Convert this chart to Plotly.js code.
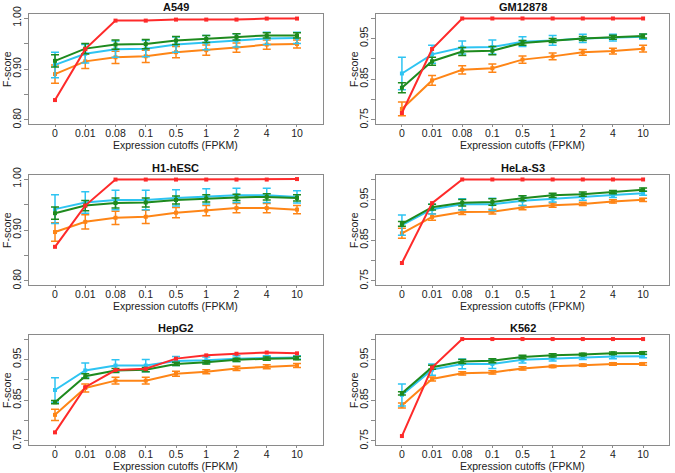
<!DOCTYPE html>
<html>
<head>
<meta charset="utf-8">
<script src="https://cdn.plot.ly/plotly-3.0.1.min.js"></script>
<style>html,body{margin:0;padding:0;background:#fff;}#chart{width:675px;height:473px;}</style>
</head>
<body>
<div id="chart"></div>
<script>
// ---------- data ----------
const cutoffs = ['0', '0.01', '0.08', '0.1', '0.5', '1', '2', '4', '10'];
const panelNames = ['A549', 'GM12878', 'H1-hESC', 'HeLa-S3', 'HepG2', 'K562'];

// A549
const a549_red    = [0.839, 0.939, 0.995, 0.995, 0.997, 0.997, 0.997, 0.999, 0.999];
const a549_green  = [0.916, 0.940, 0.948, 0.949, 0.956, 0.959, 0.963, 0.966, 0.966];
const a549_cyan   = [0.908, 0.930, 0.939, 0.940, 0.948, 0.952, 0.956, 0.960, 0.961];
const a549_orange = [0.890, 0.915, 0.923, 0.925, 0.933, 0.937, 0.942, 0.948, 0.949];
const a549_green_err  = [0.012, 0.010, 0.009, 0.009, 0.008, 0.007, 0.006, 0.005, 0.005];
const a549_cyan_err   = [0.025, 0.018, 0.016, 0.016, 0.015, 0.014, 0.013, 0.012, 0.011];
const a549_orange_err = [0.018, 0.014, 0.012, 0.012, 0.011, 0.010, 0.009, 0.009, 0.008];

// GM12878
const gm_red    = [0.767, 0.924, 0.999, 0.999, 0.999, 0.999, 0.999, 0.999, 0.999];
const gm_green  = [0.829, 0.894, 0.918, 0.920, 0.939, 0.945, 0.950, 0.953, 0.956];
const gm_cyan   = [0.864, 0.911, 0.928, 0.929, 0.942, 0.945, 0.950, 0.952, 0.954];
const gm_orange = [0.777, 0.847, 0.873, 0.877, 0.898, 0.906, 0.916, 0.919, 0.925];
const gm_green_err  = [0.012, 0.010, 0.010, 0.010, 0.006, 0.005, 0.005, 0.005, 0.005];
const gm_cyan_err   = [0.040, 0.022, 0.016, 0.017, 0.012, 0.012, 0.010, 0.008, 0.006];
const gm_orange_err = [0.017, 0.012, 0.010, 0.010, 0.009, 0.008, 0.007, 0.007, 0.008];

// H1-hESC
const h1_red    = [0.867, 0.948, 0.999, 0.999, 0.999, 0.999, 0.999, 0.999, 1.000];
const h1_green  = [0.933, 0.948, 0.953, 0.954, 0.959, 0.962, 0.964, 0.965, 0.963];
const h1_cyan   = [0.941, 0.954, 0.959, 0.959, 0.963, 0.966, 0.968, 0.968, 0.965];
const h1_orange = [0.896, 0.916, 0.924, 0.926, 0.934, 0.938, 0.943, 0.943, 0.940];
const h1_green_err  = [0.012, 0.010, 0.010, 0.009, 0.008, 0.007, 0.006, 0.006, 0.006];
const h1_cyan_err   = [0.028, 0.021, 0.019, 0.019, 0.016, 0.015, 0.014, 0.014, 0.012];
const h1_orange_err = [0.018, 0.014, 0.013, 0.013, 0.010, 0.010, 0.009, 0.009, 0.008];

// HeLa-S3
const hela_red    = [0.794, 0.941, 0.999, 0.999, 0.999, 0.999, 0.999, 0.999, 0.999];
const hela_green  = [0.890, 0.931, 0.942, 0.944, 0.953, 0.960, 0.963, 0.968, 0.974];
const hela_cyan   = [0.887, 0.926, 0.938, 0.938, 0.947, 0.952, 0.956, 0.961, 0.965];
const hela_orange = [0.867, 0.907, 0.919, 0.920, 0.930, 0.936, 0.939, 0.945, 0.949];
const hela_green_err  = [0.006, 0.007, 0.008, 0.008, 0.006, 0.005, 0.005, 0.004, 0.004];
const hela_cyan_err   = [0.025, 0.012, 0.014, 0.015, 0.012, 0.008, 0.008, 0.006, 0.005];
const hela_orange_err = [0.012, 0.008, 0.006, 0.006, 0.005, 0.005, 0.004, 0.004, 0.004];

// HepG2
const hepg2_red    = [0.771, 0.882, 0.924, 0.927, 0.952, 0.960, 0.964, 0.967, 0.965];
const hepg2_green  = [0.845, 0.909, 0.923, 0.925, 0.939, 0.943, 0.949, 0.952, 0.953];
const hepg2_cyan   = [0.875, 0.923, 0.935, 0.935, 0.946, 0.948, 0.952, 0.954, 0.955];
const hepg2_orange = [0.814, 0.880, 0.898, 0.898, 0.915, 0.920, 0.928, 0.932, 0.935];
const hepg2_green_err  = [0.004, 0.006, 0.005, 0.005, 0.004, 0.004, 0.004, 0.004, 0.004];
const hepg2_cyan_err   = [0.030, 0.018, 0.014, 0.015, 0.011, 0.008, 0.007, 0.005, 0.004];
const hepg2_orange_err = [0.014, 0.010, 0.008, 0.008, 0.006, 0.005, 0.005, 0.005, 0.005];

// K562
const k562_red    = [0.762, 0.930, 1.000, 1.000, 1.000, 1.000, 1.000, 1.000, 1.000];
const k562_green  = [0.867, 0.931, 0.945, 0.947, 0.956, 0.960, 0.962, 0.965, 0.966];
const k562_cyan   = [0.863, 0.925, 0.939, 0.939, 0.949, 0.952, 0.955, 0.957, 0.958];
const k562_orange = [0.837, 0.902, 0.916, 0.918, 0.928, 0.933, 0.936, 0.939, 0.939];
const k562_green_err  = [0.004, 0.005, 0.005, 0.005, 0.004, 0.004, 0.003, 0.003, 0.003];
const k562_cyan_err   = [0.027, 0.014, 0.012, 0.011, 0.008, 0.006, 0.005, 0.005, 0.004];
const k562_orange_err = [0.006, 0.005, 0.004, 0.004, 0.004, 0.003, 0.003, 0.003, 0.003];

const yTicksA = [0.80, 0.85, 0.90, 0.95, 1.00];
const yTickTextA = ['0.80', '', '0.90', '', '1.00'];
const yTicksB = [0.75, 0.80, 0.85, 0.90, 0.95, 1.00];
const yTickTextB = ['0.75', '', '0.85', '', '0.95', ''];

// ---------- assembly ----------
const panelData = [
  {red: a549_red, green: a549_green, cyan: a549_cyan, orange: a549_orange,
   ge: a549_green_err, ce: a549_cyan_err, oe: a549_orange_err, ticks: 'A'},
  {red: gm_red, green: gm_green, cyan: gm_cyan, orange: gm_orange,
   ge: gm_green_err, ce: gm_cyan_err, oe: gm_orange_err, ticks: 'B'},
  {red: h1_red, green: h1_green, cyan: h1_cyan, orange: h1_orange,
   ge: h1_green_err, ce: h1_cyan_err, oe: h1_orange_err, ticks: 'A'},
  {red: hela_red, green: hela_green, cyan: hela_cyan, orange: hela_orange,
   ge: hela_green_err, ce: hela_cyan_err, oe: hela_orange_err, ticks: 'B'},
  {red: hepg2_red, green: hepg2_green, cyan: hepg2_cyan, orange: hepg2_orange,
   ge: hepg2_green_err, ce: hepg2_cyan_err, oe: hepg2_orange_err, ticks: 'B'},
  {red: k562_red, green: k562_green, cyan: k562_cyan, orange: k562_orange,
   ge: k562_green_err, ce: k562_cyan_err, oe: k562_orange_err, ticks: 'B'}
];

const W = 675, H = 473;
const colBoxes = [[29, 323], [376, 669]];
const rowBoxes = [[14, 124], [175, 285], [335, 445]];
const COL = {red: '#fe2a2a', green: '#1e8a1e', cyan: '#2ec4f2', orange: '#fe8516'};
const xpos = cutoffs.map((c, i) => i);

const traces = [];
const layout = {
  width: W, height: H,
  margin: {l: 0, r: 0, t: 0, b: 0},
  paper_bgcolor: '#ffffff', plot_bgcolor: '#ffffff',
  showlegend: false,
  font: {family: 'Liberation Sans, Arial, sans-serif', size: 10, color: '#222'},
  annotations: []
};

panelData.forEach((p, k) => {
  const r = Math.floor(k / 2), c = k % 2;
  const sfx = k === 0 ? '' : String(k + 1);
  const xa = 'x' + sfx, ya = 'y' + sfx;
  const [x0, x1] = colBoxes[c];
  const [t0, b0] = rowBoxes[r];
  const isA = p.ticks === 'A';

  layout['xaxis' + sfx] = {
    domain: [x0 / W, x1 / W], anchor: ya,
    range: [-0.86, 8.86], tickmode: 'array', tickvals: xpos, ticktext: cutoffs,
    showline: true, mirror: true, linecolor: '#8a8a8a', linewidth: 1,
    ticks: 'outside', ticklen: 2, tickcolor: '#8a8a8a', showgrid: false, zeroline: false,
    ticklabelstandoff: -3,
    tickfont: {size: 10.5, color: '#222'}, fixedrange: true
  };
  layout['yaxis' + sfx] = {
    domain: [1 - b0 / H, 1 - t0 / H], anchor: xa,
    range: isA ? [0.792, 1.008] : [0.74, 1.01],
    tickmode: 'array', tickvals: isA ? yTicksA : yTicksB, ticktext: isA ? yTickTextA : yTickTextB,
    tickangle: -90,
    showline: true, mirror: true, linecolor: '#8a8a8a', linewidth: 1,
    ticks: 'outside', ticklen: 4, tickcolor: '#8a8a8a', showgrid: false, zeroline: false,
    ticklabelstandoff: -1,
    tickfont: {size: 10.5, color: '#222'}, fixedrange: true
  };

  const mk = (vals, err, col, name) => ({
    type: 'scatter', mode: 'lines+markers', x: xpos, y: vals, xaxis: xa, yaxis: ya, name: name,
    line: {color: col, width: 2}, marker: {color: col, size: 4, symbol: 'square'},
    error_y: err ? {type: 'data', array: err, visible: true, color: col, thickness: 1.5, width: 4} : undefined,
    cliponaxis: false
  });
  traces.push(mk(p.orange, p.oe, COL.orange, 'orange'));
  traces.push(mk(p.cyan, p.ce, COL.cyan, 'cyan'));
  traces.push(mk(p.green, p.ge, COL.green, 'green'));
  traces.push(mk(p.red, null, COL.red, 'red'));

  const cx = (x0 + x1) / 2 / W;
  layout.annotations.push({
    text: '<b>' + panelNames[k] + '</b>', xref: 'paper', yref: 'paper',
    x: cx, y: 1 - (t0 - 7) / H, xanchor: 'center', yanchor: 'middle', showarrow: false,
    font: {size: 11, color: '#111'}
  });
  layout.annotations.push({
    text: 'Expression cutoffs (FPKM)', xref: 'paper', yref: 'paper',
    x: cx, y: 1 - (b0 + 21) / H, xanchor: 'center', yanchor: 'middle', showarrow: false,
    font: {size: 10.5, color: '#222'}
  });
  layout.annotations.push({
    text: 'F-score', xref: 'paper', yref: 'paper', textangle: -90,
    x: (x0 - 22) / W, y: 1 - (t0 + b0) / 2 / H, xanchor: 'center', yanchor: 'middle', showarrow: false,
    font: {size: 10.5, color: '#222'}
  });
});

Plotly.newPlot('chart', traces, layout, {staticPlot: true, displayModeBar: false});
</script>
</body>
</html>
